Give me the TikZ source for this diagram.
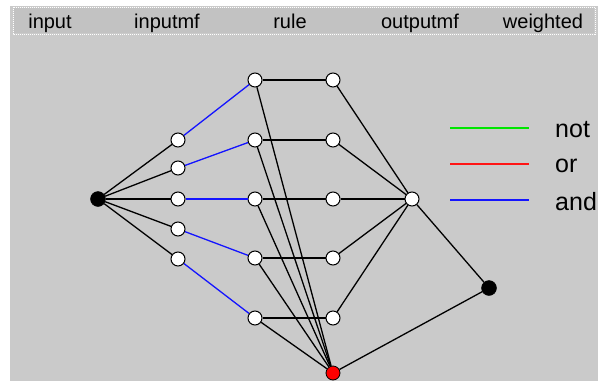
\documentclass[tikz,border=0pt]{standalone}
\usepackage{fontspec}
\setmainfont{Liberation Sans}
\definecolor{bgpat}{RGB}{202,202,202}
\definecolor{band}{RGB}{194,194,194}
\definecolor{lgreen}{RGB}{0,230,0}
\definecolor{lred}{RGB}{255,20,20}
\definecolor{lblue}{RGB}{20,20,255}
\begin{document}
\begin{tikzpicture}[x=1pt,y=-1pt,
  wnode/.style={circle,draw=black,fill=white,line width=1pt,minimum size=14pt,inner sep=0pt},
  bnode/.style={circle,draw=black,fill=black,minimum size=15pt,inner sep=0pt},
  rnode/.style={circle,draw=black,fill=red,line width=0.8pt,minimum size=14pt,inner sep=0pt},
  blk/.style={draw=black,line width=1.3pt},
  blu/.style={draw=lblue,line width=1.3pt},
  hdr/.style={font=\fontsize{20}{22}\selectfont,inner sep=0pt,anchor=base},
  lgd/.style={font=\fontsize{25}{28}\selectfont,inner sep=0pt,anchor=west},
  lline/.style={line width=2pt}]
\useasboundingbox (0,0) rectangle (598,381);
\fill[white] (0,0) rectangle (598,381);
\fill[bgpat] (10,6) rectangle (598,381);
\fill[band] (14,8) rectangle (594,33);
\draw[white,densely dotted,line width=1pt] (13,7) rectangle (595,34);
% header
\node[hdr] (h1) at (50,28) {input};
\node[hdr] (h2) at (167,28) {inputmf};
\node[hdr] (h3) at (290,28) {rule};
\node[hdr] (h4) at (420,28) {outputmf};
\node[hdr] (h5) at (543,28) {weighted};
% nodes
\node[bnode] (in) at (98,199) {};
\node[wnode] (m1) at (178,140) {};
\node[wnode] (m2) at (178,168) {};
\node[wnode] (m3) at (178,199) {};
\node[wnode] (m4) at (178,229) {};
\node[wnode] (m5) at (178,259) {};
\node[wnode] (r1) at (255,80) {};
\node[wnode] (r2) at (255,140) {};
\node[wnode] (r3) at (255,199) {};
\node[wnode] (r4) at (255,258) {};
\node[wnode] (r5) at (255,318) {};
\node[wnode] (s1) at (333,80) {};
\node[wnode] (s2) at (333,140) {};
\node[wnode] (s3) at (333,199) {};
\node[wnode] (s4) at (333,258) {};
\node[wnode] (s5) at (333,318) {};
\node[wnode] (out) at (412,199) {};
\node[bnode] (w) at (489,288) {};
\node[rnode] (red) at (333,373) {};
% edges
\foreach \i in {1,...,5} {
  \draw[blk] (in) -- (m\i);
  \draw[blu] (m\i) -- (r\i);
  \draw[blk] (r\i) -- (s\i);
  \draw[blk] (s\i) -- (out);
  \draw[blk] (r\i) -- (red);
}
\draw[blk] (out) -- (w);
\draw[blk] (red) -- (w);
% legend
\coordinate (g1) at (450,128); \coordinate (g2) at (529,128);
\coordinate (o1) at (450,164); \coordinate (o2) at (529,164);
\coordinate (a1) at (450,200); \coordinate (a2) at (529,200);
\draw[lline,lgreen] (g1) -- (g2);
\draw[lline,lred] (o1) -- (o2);
\draw[lline,lblue] (a1) -- (a2);
\node[lgd] (tn) at (555,130) {not};
\node[lgd] (to) at (555,166) {or};
\node[lgd] (ta) at (555,202) {and};
\end{tikzpicture}
\end{document}
